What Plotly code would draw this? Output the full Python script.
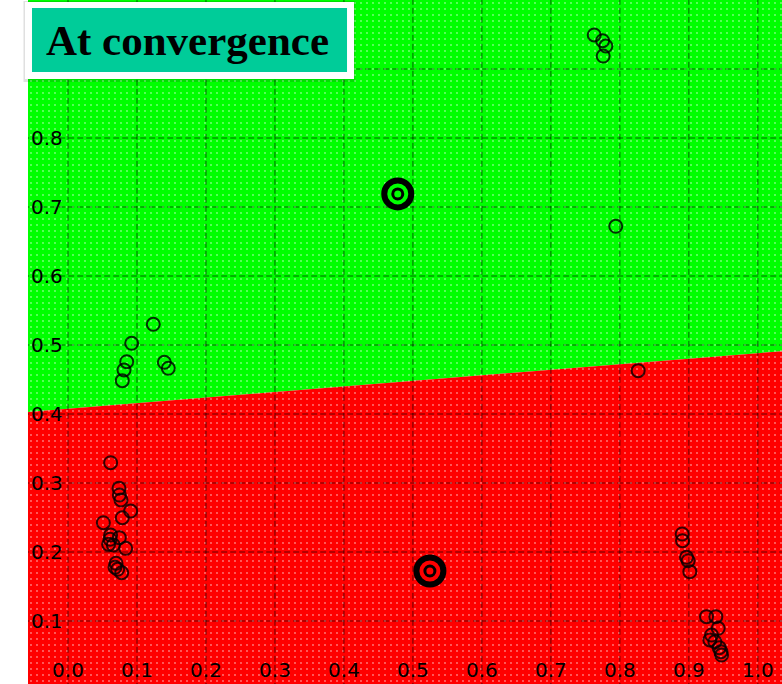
import plotly.graph_objects as go

# Axis ticks and visible window
x_ticks = [0.0, 0.1, 0.2, 0.3, 0.4, 0.5, 0.6, 0.7, 0.8, 0.9, 1.0]
y_grid = [0.1, 0.2, 0.3, 0.4, 0.5, 0.6, 0.7, 0.8, 0.9]
y_labels = [0.1, 0.2, 0.3, 0.4, 0.5, 0.6, 0.7, 0.8]  # 0.9 sits under the title badge
x_range = [-0.058, 1.035]
y_range = [0.0087, 1.0]

# Learned decision boundary: y = intercept + slope * x
boundary_intercept = 0.4077
boundary_slope = 0.0805

# Samples of the upper (green) class
green_x = [0.1236, 0.0923, 0.0851, 0.0812, 0.0787, 0.1396, 0.1454,
           0.7628, 0.7750, 0.7797, 0.7758, 0.7940]
green_y = [0.5300, 0.5025, 0.4758, 0.4638, 0.4483, 0.4749, 0.4662,
           0.9493, 0.9410, 0.9333, 0.9188, 0.6720]

# Samples of the lower (red) class
red_x = [0.0618, 0.0739, 0.0744, 0.0768, 0.0908, 0.0787, 0.0512, 0.0618,
         0.0609, 0.0744, 0.0589, 0.0657, 0.0836, 0.0696, 0.0681, 0.0720,
         0.0778, 0.8265, 0.8903, 0.8908, 0.8966, 0.8990, 0.9014, 0.9256,
         0.9391, 0.9425, 0.9329, 0.9304, 0.9377, 0.9440, 0.9464, 0.9474]
red_y = [0.3294, 0.2923, 0.2826, 0.2754, 0.2594, 0.2497, 0.2425, 0.2246,
         0.2184, 0.2208, 0.2111, 0.2101, 0.2053, 0.1836, 0.1778, 0.1749,
         0.1700, 0.4628, 0.2261, 0.2164, 0.1923, 0.1874, 0.1715, 0.1063,
         0.1063, 0.0894, 0.0797, 0.0725, 0.0700, 0.0614, 0.0556, 0.0507]

# Class prototypes (cluster centres)
center_x = [0.478, 0.5246]
center_y = [0.719, 0.1725]
center_fill = ["#00ff00", "#ff0000"]

GREEN = "#00ff00"
RED = "#ff0000"


def boundary(x):
    return boundary_intercept + boundary_slope * x


xa, xb = x_range[0] - 0.02, x_range[1] + 0.02
ya, yb = y_range[0] - 0.02, y_range[1] + 0.02

upper_x = [xa, xb, xb, xa, xa]
upper_y = [boundary(xa), boundary(xb), yb, yb, boundary(xa)]
lower_x = [xa, xb, xb, xa, xa]
lower_y = [ya, ya, boundary(xb), boundary(xa), ya]

fig = go.Figure()

# Solid class regions
for px, py, col in [(upper_x, upper_y, GREEN), (lower_x, lower_y, RED)]:
    fig.add_trace(go.Scatter(
        x=px, y=py, mode="lines", fill="toself", fillcolor=col,
        line=dict(width=0), hoverinfo="skip", showlegend=False))

# Sparse white speckle texture over both regions
fig.add_trace(go.Scatter(
    x=[xa, xb, xb, xa, xa], y=[ya, ya, yb, yb, ya], mode="lines",
    fill="toself", fillcolor="rgba(0,0,0,0)",
    fillpattern=dict(shape=".", fgcolor="white", bgcolor="rgba(0,0,0,0)",
                     size=6, solidity=0.07, fillmode="overlay"),
    line=dict(width=0), hoverinfo="skip", showlegend=False))

# Dashed grid drawn over the regions
gx, gy = [], []
for v in x_ticks:
    gx += [v, v, None]
    gy += [ya, yb, None]
for v in y_grid:
    gx += [xa, xb, None]
    gy += [v, v, None]
fig.add_trace(go.Scatter(
    x=gx, y=gy, mode="lines",
    line=dict(color="rgba(0,0,0,0.6)", width=1, dash="6px,3px"),
    hoverinfo="skip", showlegend=False))

# Data samples as hollow circles
for sx, sy in [(green_x, green_y), (red_x, red_y)]:
    fig.add_trace(go.Scatter(
        x=sx, y=sy, mode="markers",
        marker=dict(size=13, color="rgba(0,0,0,0)",
                    line=dict(color="rgba(0,0,0,0.8)", width=2)),
        showlegend=False))

# Prototypes as bull's-eye markers
fig.add_trace(go.Scatter(
    x=center_x, y=center_y, mode="markers",
    marker=dict(size=27, color=center_fill,
                line=dict(color="black", width=6)),
    showlegend=False))
fig.add_trace(go.Scatter(
    x=center_x, y=center_y, mode="markers",
    marker=dict(size=10, color=center_fill,
                line=dict(color="black", width=3)),
    showlegend=False))

tick_font = dict(family="DejaVu Sans", size=20, color="black")
fig.update_xaxes(range=x_range, tickvals=x_ticks,
                 ticktext=[f"{v:.1f}" for v in x_ticks],
                 ticklabelposition="inside", ticks="", showgrid=False,
                 zeroline=False, showline=False, tickfont=tick_font)
fig.update_yaxes(range=y_range, tickvals=y_labels,
                 ticktext=[f"{v:.1f}" for v in y_labels],
                 ticklabelposition="inside", ticks="", showgrid=False,
                 zeroline=False, showline=False, tickfont=tick_font)

# Title badge
fig.add_shape(type="rect", xref="paper", yref="paper",
              x0=-0.006, x1=0.4340, y0=0.8800, y1=0.9985,
              fillcolor="rgba(0,0,0,0.12)", line=dict(width=0), layer="above")
fig.add_shape(type="rect", xref="paper", yref="paper",
              x0=-0.004, x1=0.4324, y0=0.8845, y1=0.9971,
              fillcolor="white", line=dict(width=0), layer="above")
fig.add_shape(type="rect", xref="paper", yref="paper",
              x0=0.0053, x1=0.4231, y0=0.8947, y1=0.9883,
              fillcolor="#00cc99", line=dict(width=0), layer="above")
fig.add_annotation(text="<b>At convergence</b>", xref="paper", yref="paper",
                   x=0.2115, y=0.9415, xanchor="center", yanchor="middle",
                   showarrow=False,
                   font=dict(family="Liberation Serif", size=43, color="black"))

fig.update_layout(width=782, height=684,
                  margin=dict(l=28, r=0, t=0, b=0),
                  paper_bgcolor="white", plot_bgcolor="white",
                  showlegend=False, hovermode=False)

fig.write_html("out.html")
